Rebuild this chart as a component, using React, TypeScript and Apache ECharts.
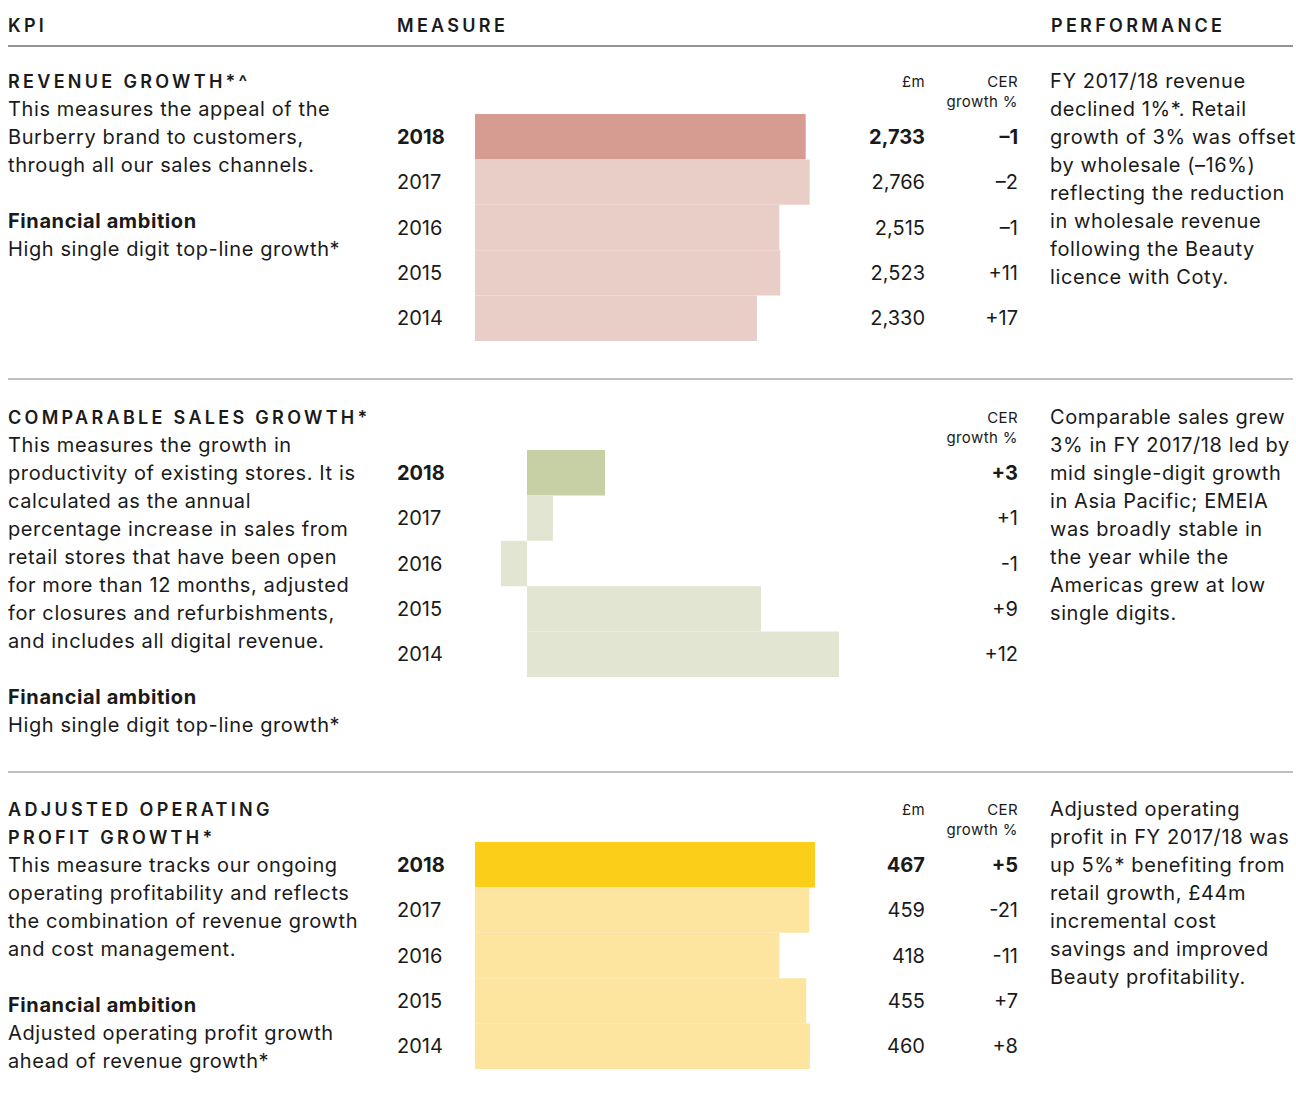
import React, { useEffect, useRef } from "react";
import * as echarts from "echarts";

const years = ["2018", "2017", "2016", "2015", "2014"];
const revenueValues = [2733, 2766, 2515, 2523, 2330];
const revenueCER = ["–1", "–2", "–1", "+11", "+17"];
const compValues = [3, 1, -1, 9, 12];
const compCER = ["+3", "+1", "-1", "+9", "+12"];
const profitValues = [467, 459, 418, 455, 460];
const profitCER = ["+5", "-21", "-11", "+7", "+8"];

const headers = ["KPI", "MEASURE", "PERFORMANCE"];
const titles1 = ["REVENUE GROWTH*^"];
const desc1 = [
  "This measures the appeal of the",
  "Burberry brand to customers,",
  "through all our sales channels.",
];
const ambition1 = ["High single digit top-line growth*"];
const perf1 = [
  "FY 2017/18 revenue",
  "declined 1%*. Retail",
  "growth of 3% was offset",
  "by wholesale (–16%)",
  "reflecting the reduction",
  "in wholesale revenue",
  "following the Beauty",
  "licence with Coty.",
];
const titles2 = ["COMPARABLE SALES GROWTH*"];
const desc2 = [
  "This measures the growth in",
  "productivity of existing stores. It is",
  "calculated as the annual",
  "percentage increase in sales from",
  "retail stores that have been open",
  "for more than 12 months, adjusted",
  "for closures and refurbishments,",
  "and includes all digital revenue.",
];
const ambition2 = ["High single digit top-line growth*"];
const perf2 = [
  "Comparable sales grew",
  "3% in FY 2017/18 led by",
  "mid single-digit growth",
  "in Asia Pacific; EMEIA",
  "was broadly stable in",
  "the year while the",
  "Americas grew at low",
  "single digits.",
];
const titles3 = ["ADJUSTED OPERATING", "PROFIT GROWTH*"];
const desc3 = [
  "This measure tracks our ongoing",
  "operating profitability and reflects",
  "the combination of revenue growth",
  "and cost management.",
];
const ambition3 = [
  "Adjusted operating profit growth",
  "ahead of revenue growth*",
];
const perf3 = [
  "Adjusted operating",
  "profit in FY 2017/18 was",
  "up 5%* benefiting from",
  "retail growth, £44m",
  "incremental cost",
  "savings and improved",
  "Beauty profitability.",
];
const colHeads = ["£m", "CER", "growth %"];

const FONT = "Inter, 'Noto Sans', sans-serif";
const INK = "#1a1a1a";
const BODY = 20;
const HEAD = 18;

const fmt = (n: number) => n.toLocaleString("en-GB");

export default function App() {
  const ref = useRef<HTMLDivElement>(null);
  useEffect(() => {
    if (!ref.current) return;
    const chart = echarts.init(ref.current, undefined, { renderer: "svg" });

    const graphics: any[] = [];
    const txt = (s: string, x: number, y: number, opts: any = {}) => {
      graphics.push({
        type: "text",
        x,
        y,
        silent: true,
        style: {
          text: s,
          fontFamily: FONT,
          fontSize: opts.size || BODY,
          fontWeight: opts.weight || "normal",
          fill: opts.color || INK,
          textAlign: opts.align || "left",
          textVerticalAlign: "middle",
          verticalAlign: "middle",
        },
      });
    };
    const lines = (arr: string[], x: number, y0: number, opts: any = {}) =>
      arr.forEach((s, i) => txt(s, x, y0 + i * 28, opts));
    const hline = (y: number, w: number, c: string) =>
      graphics.push({
        type: "line",
        silent: true,
        shape: { x1: 8, y1: y, x2: 1293, y2: y },
        style: { stroke: c, lineWidth: w },
      });

    const H = { size: HEAD, weight: 600 };
    const S = { size: 15, align: "right" };

    // header
    txt(headers[0], 8, 25, H);
    txt(headers[1], 397, 25, H);
    txt(headers[2], 1051, 25, H);
    hline(46, 1.5, "#707070");
    hline(379, 1, "#808080");
    hline(772, 1, "#808080");

    // section 1
    lines(titles1, 8, 81, H);
    lines(desc1, 8, 109);
    txt("Financial ambition", 8, 221, { weight: "bold" });
    lines(ambition1, 8, 249);
    lines(perf1, 1050, 81);
    txt(colHeads[0], 925, 81, S);
    txt(colHeads[1], 1018, 81, S);
    txt(colHeads[2], 1018, 101, S);

    // section 2
    lines(titles2, 8, 417, H);
    lines(desc2, 8, 445);
    txt("Financial ambition", 8, 697, { weight: "bold" });
    lines(ambition2, 8, 725);
    lines(perf2, 1050, 417);
    txt(colHeads[1], 1018, 417, S);
    txt(colHeads[2], 1018, 437, S);

    // section 3
    lines(titles3, 8, 809, H);
    lines(desc3, 8, 865);
    txt("Financial ambition", 8, 1005, { weight: "bold" });
    lines(ambition3, 8, 1033);
    lines(perf3, 1050, 809);
    txt(colHeads[0], 925, 809, S);
    txt(colHeads[1], 1018, 809, S);
    txt(colHeads[2], 1018, 829, S);

    const grids = [
      { left: 475, top: 114, width: 363, height: 227 },
      { left: 475, top: 450, width: 364, height: 227 },
      { left: 475, top: 842, width: 364, height: 227 },
    ];
    const xAxes = [
      { min: 0, max: 3000 },
      { min: -2, max: 12 },
      { min: 0, max: 500 },
    ].map((r, i) => ({
      type: "value",
      gridIndex: i,
      ...r,
      show: false,
      splitLine: { show: false },
    }));

    const labelStyle = (texts: string[], align: string, margin: number) => ({
      show: true,
      align,
      margin,
      formatter: (_v: string, i: number) =>
        i === 0 ? `{b|${texts[i]}}` : `{n|${texts[i]}}`,
      rich: {
        b: { fontFamily: FONT, fontSize: BODY, fontWeight: "bold", color: INK },
        n: { fontFamily: FONT, fontSize: BODY, fontWeight: "normal", color: INK },
      },
    });
    const yAxis = (
      gridIndex: number,
      position: string,
      texts: string[],
      align: string,
      margin: number
    ) => ({
      type: "category",
      gridIndex,
      position,
      data: years,
      inverse: true,
      axisLine: { show: false },
      axisTick: { show: false },
      splitLine: { show: false },
      axisLabel: labelStyle(texts, align, margin),
    });

    const yAxes = [
      yAxis(0, "left", years, "left", 78),
      yAxis(0, "right", revenueValues.map(fmt), "right", 87),
      yAxis(0, "right", revenueCER, "right", 180),
      yAxis(1, "left", years, "left", 78),
      yAxis(1, "right", compCER, "right", 179),
      yAxis(2, "left", years, "left", 78),
      yAxis(2, "right", profitValues.map(String), "right", 86),
      yAxis(2, "right", profitCER, "right", 179),
    ];

    const barSeries = (
      values: number[],
      xi: number,
      yi: number,
      dark: string,
      light: string
    ) => ({
      type: "bar",
      xAxisIndex: xi,
      yAxisIndex: yi,
      barWidth: "100%",
      silent: true,
      data: values.map((v, i) => ({
        value: v,
        itemStyle: { color: i === 0 ? dark : light },
      })),
    });

    chart.setOption({
      animation: false,
      backgroundColor: "#ffffff",
      grid: grids,
      xAxis: xAxes,
      yAxis: yAxes,
      series: [
        barSeries(revenueValues, 0, 0, "#D69B91", "#E9CDC7"),
        barSeries(compValues, 1, 3, "#C7D0A5", "#E2E5D2"),
        barSeries(profitValues, 2, 5, "#FBCE1A", "#FDE49F"),
      ],
      graphic: graphics,
    });

    // letter tracking (SVG attribute)
    const tracked = new Set([...headers, ...titles1, ...titles2, ...titles3]);
    const body = new Set([
      ...desc1, ...ambition1, ...perf1,
      ...desc2, ...ambition2, ...perf2,
      ...desc3, ...ambition3, ...perf3,
      "Financial ambition",
    ]);
    const small = new Set(colHeads);
    ref.current.querySelectorAll("text").forEach((t) => {
      const c = t.textContent || "";
      if (tracked.has(c)) t.setAttribute("letter-spacing", "3.3");
      else if (body.has(c)) t.setAttribute("letter-spacing", "0.6");
      else if (small.has(c)) t.setAttribute("letter-spacing", "0.4");
    });

    return () => chart.dispose();
  }, []);
  return (
    <div
      ref={ref}
      style={{ position: "absolute", left: 0, top: 0, width: 1296, height: 1101 }}
    />
  );
}
